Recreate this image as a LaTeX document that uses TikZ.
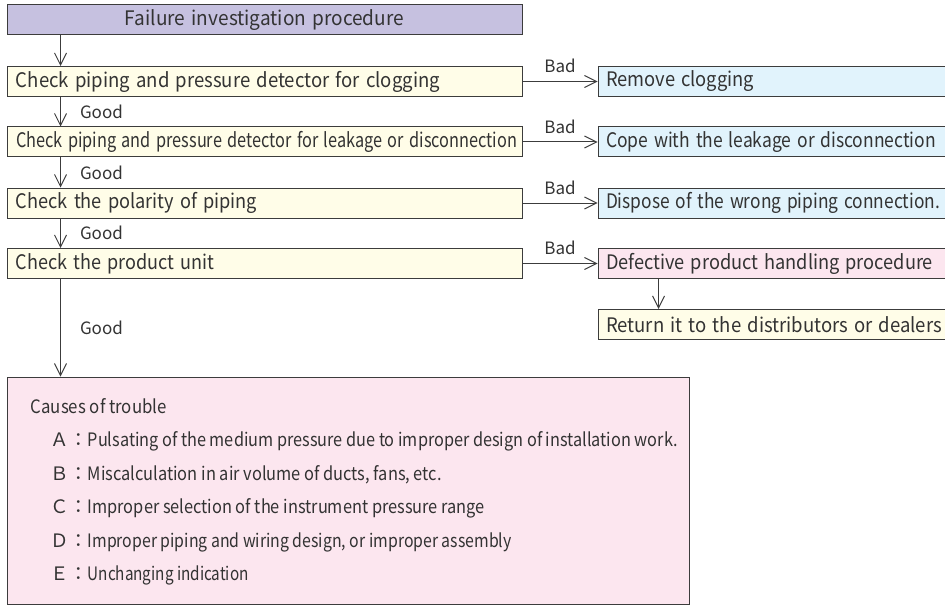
\documentclass[tikz,border=0pt]{standalone}
\usepackage{fontspec}
\setmainfont{Noto Sans CJK JP}
\usetikzlibrary{positioning, arrows.meta}
\definecolor{headfill}{HTML}{C6C1E0}
\definecolor{checkfill}{HTML}{FFFDE8}
\definecolor{fixfill}{HTML}{E1F3FC}
\definecolor{badfill}{HTML}{FCE6EF}
\definecolor{edge}{HTML}{3C3C3C}
\definecolor{ink}{HTML}{333333}
\newcommand{\fitw}[2]{\resizebox{#1pt}{\height}{#2}}
\tikzset{
  basebox/.style={rectangle, draw=edge, line width=1pt, minimum height=30pt, inner xsep=9pt, inner ysep=0pt, text=ink, font=\fontsize{20}{22}\selectfont},
  headbox/.style={basebox, fill=headfill, minimum width=515pt, text width=497pt, align=center},
  checkbox/.style={basebox, fill=checkfill, minimum width=515pt, text width=497pt, align=left},
  fixbox/.style={basebox, fill=fixfill, minimum width=360pt, inner xsep=8pt, text width=344pt, align=left},
  defectbox/.style={fixbox, fill=badfill},
  returnbox/.style={fixbox, fill=checkfill},
  causebox/.style={rectangle, draw=edge, line width=1pt, fill=badfill, minimum width=682pt, minimum height=227pt},
  causetext/.style={text=ink, inner sep=0pt, font=\fontsize{18.5}{20}\selectfont},
  tag/.style={text=ink, inner sep=0pt, font=\fontsize{17}{19}\selectfont},
  arrow/.style={draw=edge, line width=1pt, -{Straight Barb[length=12pt, width=12pt]}}
}
\begin{document}
\begin{tikzpicture}[x=1pt, y=-1pt]
    \useasboundingbox (0,0) rectangle (945,607);

    \node (head) [headbox, anchor=north west] at (6.5,4.5) {\fitw{279}{Failure investigation procedure}};

    \node (clog) [checkbox, below=30.5pt of head] {\fitw{424}{Check piping and pressure detector for clogging}};
    \node (leak) [checkbox, below=29.5pt of clog] {\fitw{501}{Check piping and pressure detector for leakage or disconnection}};
    \node (polar) [checkbox, below=30pt of leak] {\fitw{241}{Check the polarity of piping}};
    \node (unit) [checkbox, below=29.5pt of polar] {\fitw{198}{Check the product unit}};

    \node (unclog) [fixbox, right=75pt of clog] {\fitw{148}{Remove clogging}};
    \node (cope) [fixbox, right=75pt of leak] {\fitw{330}{Cope with the leakage or disconnection}};
    \node (dispose) [fixbox, right=75pt of polar] {\fitw{334}{Dispose of the wrong piping connection.}};
    \node (defect) [defectbox, right=75pt of unit] {\fitw{327}{Defective product handling procedure}};
    \node (back) [returnbox, below=30pt of defect] {\fitw{336}{Return it to the distributors or dealers}};

    \node (causes) [causebox, below=97.5pt of unit.south west, anchor=north west] {};
    \node (title) [causetext, anchor=west] at ([xshift=24pt, yshift=-30pt]causes.north west) {\fitw{136}{Causes of trouble}};
    \foreach \letter/\dy/\w/\txt in {
        Ａ/65/590/{Pulsating of the medium pressure due to improper design of installation work.},
        Ｂ/98.5/354/{Miscalculation in air volume of ducts, fans, etc.},
        Ｃ/132/397/{Improper selection of the instrument pressure range},
        Ｄ/165.5/424/{Improper piping and wiring design, or improper assembly},
        Ｅ/199/161/{Unchanging indication}}
      \node [causetext, anchor=west] at ([xshift=44pt, yshift=-\dy pt]causes.north west) {\letter：\fitw{\w}{\txt}};

    % Flechas
    \draw [arrow] ([xshift=54pt]head.south west) -- ([xshift=54pt]clog.north west);
    \draw [arrow] ([xshift=54pt]clog.south west) -- ([xshift=54pt]leak.north west)
        node [tag, midway, right=19pt] {Good};
    \draw [arrow] ([xshift=54pt]leak.south west) -- ([xshift=54pt]polar.north west)
        node [tag, midway, right=19pt] {Good};
    \draw [arrow] ([xshift=54pt]polar.south west) -- ([xshift=54pt]unit.north west)
        node [tag, midway, right=19pt] {Good};
    \draw [arrow] ([xshift=54pt]unit.south west) -- ([xshift=54pt]causes.north west)
        node [tag, midway, right=19pt] {Good};

    \draw [arrow] (clog) -- (unclog) node [tag, midway, above=8pt] {Bad};
    \draw [arrow] (leak) -- (cope) node [tag, midway, above=8pt] {Bad};
    \draw [arrow] (polar) -- (dispose) node [tag, midway, above=8pt] {Bad};
    \draw [arrow] (unit) -- (defect) node [tag, midway, above=8pt] {Bad};

    \draw [arrow] ([xshift=61pt]defect.south west) -- ([xshift=61pt]back.north west);

\end{tikzpicture}
\end{document}
